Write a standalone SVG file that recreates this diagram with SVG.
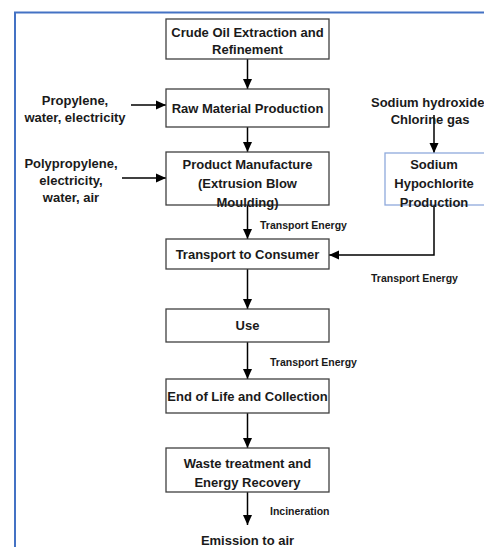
<svg xmlns="http://www.w3.org/2000/svg" width="484" height="547" viewBox="0 0 484 547">
<defs>
<marker id="ah" markerWidth="10" markerHeight="10" viewBox="0 0 10 10" refX="10" refY="5" orient="auto" markerUnits="userSpaceOnUse">
<path d="M0,0.5 L10,5 L0,9.5 Z" fill="#000"/>
</marker>
<style>
.box{fill:#fff;stroke:#404040;stroke-width:1.3}
.bbox{fill:#fff;stroke:#8FAADC;stroke-width:1.3}
.t{font-family:"Liberation Sans",Arial,sans-serif;font-weight:bold;font-size:13px;fill:#1a1a1a;text-anchor:middle}
.s{font-family:"Liberation Sans",Arial,sans-serif;font-weight:bold;font-size:10.5px;fill:#1a1a1a}
.c{fill:none;stroke:#000;stroke-width:1.5;marker-end:url(#ah)}
</style>
</defs>
<rect width="484" height="547" fill="#fff"/>
<path d="M15,547 V12.5 H484" fill="none" stroke="#4472C4" stroke-width="2"/>

<g id="connectors">
<path class="c" d="M247.5,59 V89"/>
<path class="c" d="M247.5,127 V152"/>
<path class="c" d="M247.5,205 V239"/>
<path class="c" d="M247.5,269 V309"/>
<path class="c" d="M247.5,342 V379"/>
<path class="c" d="M247.5,413 V448"/>
<path class="c" d="M247.5,492 V525"/>
<path class="c" d="M131,105 H166"/>
<path class="c" d="M122,178 H166"/>
<path class="c" d="M434,115 V153"/>
<path class="c" d="M434,205 V255 H329"/>
<text class="s" x="260" y="229">Transport Energy</text>
<text class="s" x="371" y="282">Transport Energy</text>
<text class="s" x="270" y="366">Transport Energy</text>
<text class="s" x="270" y="515">Incineration</text>
</g>

<g id="crude">
<rect class="box" x="166" y="19" width="163" height="40"/>
<text class="t" x="247.5" y="37">Crude Oil Extraction and</text>
<text class="t" x="247.5" y="54">Refinement</text>
</g>
<g id="raw">
<rect class="box" x="166" y="89" width="163" height="38"/>
<text class="t" x="247.5" y="113">Raw Material Production</text>
</g>
<g id="propylene">
<text class="t" x="75" y="105">Propylene,</text>
<text class="t" x="75" y="122">water, electricity</text>
</g>
<g id="product">
<rect class="box" x="166" y="152" width="163" height="53"/>
<text class="t" x="247.5" y="169">Product Manufacture</text>
<text class="t" x="247.5" y="188">(Extrusion Blow</text>
<text class="t" x="247.5" y="207">Moulding)</text>
</g>
<g id="polypropylene">
<text class="t" x="71" y="168">Polypropylene,</text>
<text class="t" x="71" y="185">electricity,</text>
<text class="t" x="71" y="202">water, air</text>
</g>
<g id="sodium-inputs">
<text class="t" x="371" y="107" style="text-anchor:start">Sodium hydroxide</text>
<text class="t" x="430" y="124">Chlorine gas</text>
</g>
<g id="sodium">
<rect class="bbox" x="385" y="153" width="104" height="52"/>
<text class="t" x="434" y="169">Sodium</text>
<text class="t" x="434" y="188">Hypochlorite</text>
<text class="t" x="434" y="207">Production</text>
</g>
<g id="transport">
<rect class="box" x="166" y="239" width="163" height="30"/>
<text class="t" x="247.5" y="259">Transport to Consumer</text>
</g>
<g id="use">
<rect class="box" x="166" y="309" width="163" height="33"/>
<text class="t" x="247.5" y="330">Use</text>
</g>
<g id="eol">
<rect class="box" x="166" y="379" width="163" height="34"/>
<text class="t" x="247.5" y="401">End of Life and Collection</text>
</g>
<g id="waste">
<rect class="box" x="166" y="448" width="163" height="44"/>
<text class="t" x="247.5" y="468">Waste treatment and</text>
<text class="t" x="247.5" y="487">Energy Recovery</text>
</g>
<g id="emission">
<text class="t" x="247.5" y="545">Emission to air</text>
</g>
</svg>
